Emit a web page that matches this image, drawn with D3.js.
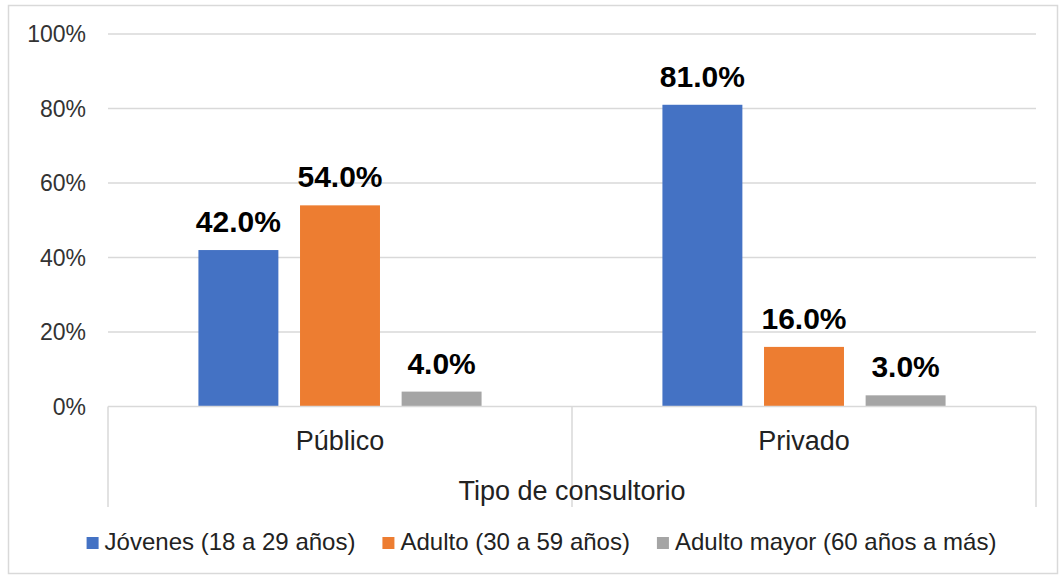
<!DOCTYPE html>
<html lang="es">
<head>
    <meta charset="UTF-8">
    <title>Tipo de consultorio</title>
    <style>
        body { margin: 0; background: #fff; }
        text { font-family: "Liberation Sans", Arial, sans-serif; }
    </style>
</head>
<body>
<script src="https://cdnjs.cloudflare.com/ajax/libs/d3/7.8.5/d3.min.js"></script>
<script>
    // data
    const categories = ["Público", "Privado"];
    const series = ["Jóvenes (18 a 29 años)", "Adulto (30 a 59 años)", "Adulto mayor (60 años a más)"];
    const jovenes = [42.0, 81.0];
    const adulto = [54.0, 16.0];
    const adultoMayor = [4.0, 3.0];
    const yTicks = [0, 20, 40, 60, 80, 100];
    const axisTitle = "Tipo de consultorio";

    const colors = ["#4472C4", "#ED7D31", "#A5A5A5"];
    const seriesValues = [jovenes, adulto, adultoMayor];

    const W = 1059, H = 575;
    const plot = {left: 108, right: 1036, top: 34, bottom: 406.5};

    const svg = d3.select("body").append("svg")
        .attr("width", W)
        .attr("height", H);

    // outer border
    svg.append("rect")
        .attr("x", 8.5).attr("y", 5.5)
        .attr("width", 1049).attr("height", 568)
        .attr("fill", "#fff")
        .attr("stroke", "#d9d9d9")
        .attr("stroke-width", 1.5);

    const y = d3.scaleLinear().domain([0, 100]).range([plot.bottom, plot.top]);
    const x0 = d3.scaleBand().domain(categories).range([plot.left, plot.right]);
    const x1 = d3.scaleBand().domain(d3.range(series.length))
        .range([0, x0.bandwidth()])
        .paddingInner(0.213)
        .paddingOuter(0.89);

    // gridlines
    svg.append("g").selectAll("line")
        .data(yTicks.filter(d => d > 0))
        .enter().append("line")
        .attr("x1", plot.left).attr("x2", plot.right)
        .attr("y1", d => y(d)).attr("y2", d => y(d))
        .attr("stroke", "#d9d9d9")
        .attr("stroke-width", 1.5);

    // y tick labels
    svg.append("g").selectAll("text")
        .data(yTicks)
        .enter().append("text")
        .attr("x", 86)
        .attr("y", d => y(d))
        .attr("dy", "0.35em")
        .attr("text-anchor", "end")
        .style("font-size", "23px")
        .attr("fill", "#333")
        .text(d => d + "%");

    // bars
    const groups = svg.append("g").selectAll("g")
        .data(categories)
        .enter().append("g")
        .attr("transform", d => "translate(" + x0(d) + ",0)");

    groups.selectAll("rect")
        .data((c, ci) => seriesValues.map((vals, si) => ({si: si, v: vals[ci]})))
        .enter().append("rect")
        .attr("x", d => x1(d.si))
        .attr("width", x1.bandwidth())
        .attr("y", d => y(d.v))
        .attr("height", d => y(0) - y(d.v))
        .attr("fill", d => colors[d.si]);

    groups.selectAll("text")
        .data((c, ci) => seriesValues.map((vals, si) => ({si: si, v: vals[ci]})))
        .enter().append("text")
        .attr("x", d => x1(d.si) + x1.bandwidth() / 2)
        .attr("y", d => y(d.v) - 18)
        .attr("text-anchor", "middle")
        .style("font-size", "30px")
        .style("font-weight", "bold")
        .attr("fill", "#000")
        .text(d => d.v.toFixed(1) + "%");

    // category axis (multi level style)
    const axis = svg.append("g").attr("stroke", "#d9d9d9").attr("stroke-width", 1.5);
    axis.append("line")
        .attr("x1", plot.left).attr("x2", plot.right)
        .attr("y1", y(0)).attr("y2", y(0));
    axis.selectAll(".sep")
        .data([plot.left].concat(categories.map(c => x0(c) + x0.bandwidth())))
        .enter().append("line")
        .attr("class", "sep")
        .attr("x1", d => d).attr("x2", d => d)
        .attr("y1", y(0)).attr("y2", 507);

    svg.append("g").selectAll("text")
        .data(categories)
        .enter().append("text")
        .attr("x", d => x0(d) + x0.bandwidth() / 2)
        .attr("y", 450)
        .attr("text-anchor", "middle")
        .style("font-size", "27px")
        .attr("fill", "#222")
        .text(d => d);

    svg.append("text")
        .attr("x", (plot.left + plot.right) / 2)
        .attr("y", 500)
        .attr("text-anchor", "middle")
        .style("font-size", "27px")
        .attr("fill", "#222")
        .text(axisTitle);

    // legend
    const legend = svg.append("g");
    const items = legend.selectAll("g")
        .data(series)
        .enter().append("g");
    items.append("rect")
        .attr("width", 12).attr("height", 12)
        .attr("y", 537)
        .attr("fill", (d, i) => colors[i]);
    items.append("text")
        .attr("x", 18)
        .attr("y", 550)
        .style("font-size", "24px")
        .attr("fill", "#222")
        .text(d => d);

    let pos = 0;
    const offsets = [];
    items.each(function () {
        offsets.push(pos);
        pos += 18 + d3.select(this).select("text").node().getComputedTextLength() + 27;
    });
    const totalW = pos - 27;
    const start = 541.5 - totalW / 2;
    items.attr("transform", (d, i) => "translate(" + (start + offsets[i]) + ",0)");
</script>
</body>
</html>
